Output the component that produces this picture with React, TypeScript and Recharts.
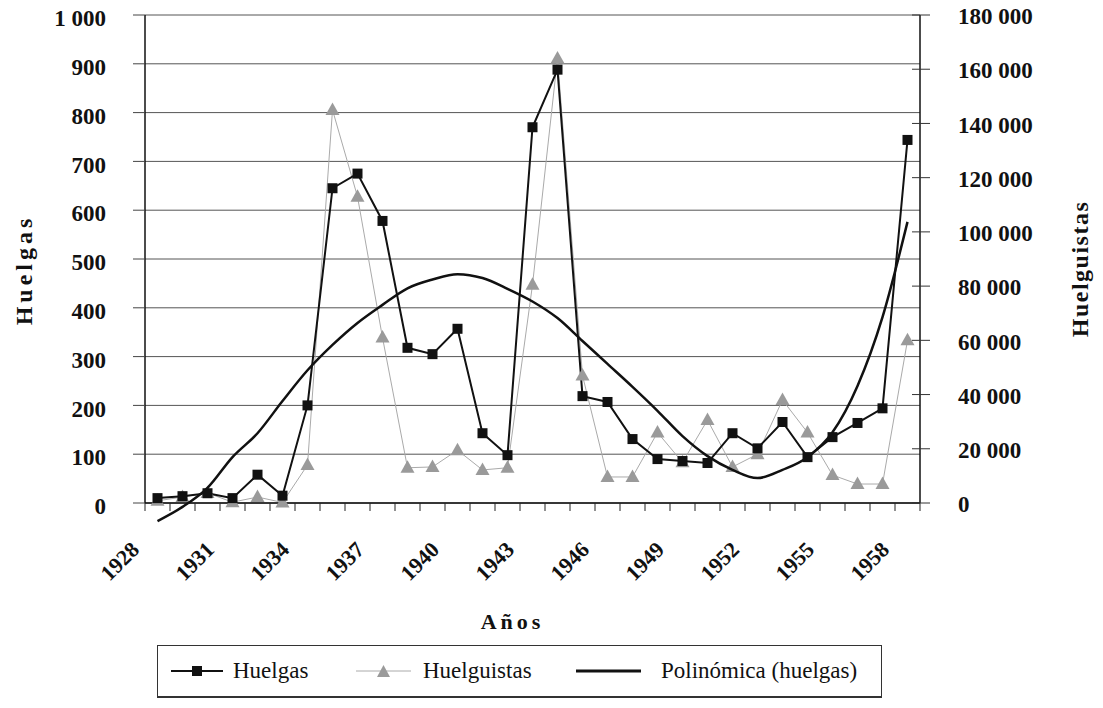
import { ComposedChart, Line, XAxis, YAxis, CartesianGrid, Legend } from 'recharts'

const YEARS = [
  '1928', '1929', '1930', '1931', '1932', '1933', '1934', '1935', '1936', '1937', '1938',
  '1939', '1940', '1941', '1942', '1943', '1944', '1945', '1946', '1947', '1948', '1949',
  '1950', '1951', '1952', '1953', '1954', '1955', '1956', '1957', '1958',
]
const HUELGAS = [
  10, 14, 20, 10, 58, 15, 200, 645, 675, 578, 318, 305, 357, 143, 98, 770,
  888, 219, 207, 131, 90, 86, 82, 143, 112, 166, 94, 135, 164, 194, 744,
]
const HUELGUISTAS = [
  800, 2200, 3700, 300, 2200, 200, 14000, 145000, 113000, 61000, 13000, 13300, 19500, 12200, 13000, 80500,
  164000, 47000, 9600, 9600, 26000, 15000, 30600, 13300, 18000, 38000, 26000, 10300, 7000, 7000, 60000,
]
// polynomial trend line of huelgas at each year
const TENDENCIA = [
  -37, -8, 31, 94, 143, 209, 272, 324, 369, 406, 440, 458, 469, 461, 439, 413,
  379, 332, 285, 238, 189, 137, 96, 68, 51, 68, 94, 145, 240, 381, 576,
]
const LEFT_TICKS = [0, 100, 200, 300, 400, 500, 600, 700, 800, 900, 1000]
const RIGHT_TICKS = [0, 20000, 40000, 60000, 80000, 100000, 120000, 140000, 160000, 180000]

const data = YEARS.map((year, i) => ({
  year,
  huelgas: HUELGAS[i],
  huelguistas: HUELGUISTAS[i],
  trend: TENDENCIA[i],
}))

const SERIF = '"Liberation Serif", "DejaVu Serif", serif'
const W = 1087
const H = 708
const MARGIN = { top: 15, right: 0, bottom: 65, left: 0 }
const LEFT_W = 137
const RIGHT_W = 175
const X_H = 140
const PLOT_W = W - LEFT_W - RIGHT_W
const PLOT_H = H - MARGIN.top - MARGIN.bottom - X_H
const BAND = PLOT_W / YEARS.length
const TREND_DOMAIN = [-40, 1000]
const OVER_H = 540
const OVER_PLOT_H = (PLOT_H * (TREND_DOMAIN[1] - TREND_DOMAIN[0])) / 1000

const fmt = (v: number) => String(v).replace(/\B(?=(\d{3})+(?!\d))/g, ' ')

const Square = (p: any) =>
  p.cx == null ? <g key={`sq-${p.index}`} /> : (
    <rect key={`sq-${p.index}`} x={p.cx - 5} y={p.cy - 5} width={10} height={10} fill="#111" />
  )

const Tri = (p: any) =>
  p.cx == null ? <g key={`tr-${p.index}`} /> : (
    <polygon
      key={`tr-${p.index}`}
      points={`${p.cx},${p.cy - 7.5} ${p.cx - 7},${p.cy + 5} ${p.cx + 7},${p.cy + 5}`}
      fill="#9a9a9a"
    />
  )

function YearTick(p: any) {
  const { x, y, payload, index } = p
  const left = x - BAND / 2
  const lx = x - 17
  const ly = y + 48
  return (
    <g>
      <line x1={left} y1={y} x2={left} y2={y + 8} stroke="#222" />
      {index === YEARS.length - 1 && <line x1={x + BAND / 2} y1={y} x2={x + BAND / 2} y2={y + 8} stroke="#222" />}
      {index % 3 === 0 && (
        <text
          x={lx}
          y={ly}
          transform={`rotate(-45 ${lx} ${ly})`}
          textAnchor="end"
          fontFamily={SERIF}
          fontSize={22}
          fontWeight="bold"
          fill="#111"
        >
          {payload.value}
        </text>
      )}
    </g>
  )
}

function RightTick(p: any) {
  const { x, y, payload } = p
  return (
    <g>
      <line x1={x - 8} y1={y} x2={x + 10} y2={y} stroke="#333" />
      <text x={x + 38} y={y} dy="0.4em" textAnchor="start" fontFamily={SERIF} fontSize={23} fontWeight="bold" fill="#111">
        {fmt(payload.value)}
      </text>
    </g>
  )
}

const LEGEND_ORDER = ['huelgas', 'huelguistas', 'trend']
const ITEM_W = [185, 220, 290]
const ITEM_GAP = [10, 12, 20]

function LegendIcon({ kind }: { kind: string }) {
  if (kind === 'huelgas') {
    return (
      <svg width={52} height={14}>
        <line x1={0} y1={7} x2={52} y2={7} stroke="#111" strokeWidth={2} />
        <rect x={21} y={2} width={10} height={10} fill="#111" />
      </svg>
    )
  }
  if (kind === 'huelguistas') {
    return (
      <svg width={55} height={14}>
        <line x1={0} y1={7} x2={55} y2={7} stroke="#aaa" strokeWidth={1} />
        <polygon points="27.5,1 21,13 34,13" fill="#9a9a9a" />
      </svg>
    )
  }
  return (
    <svg width={65} height={14}>
      <line x1={0} y1={7} x2={65} y2={7} stroke="#111" strokeWidth={3} />
    </svg>
  )
}

function LegendBox({ payload }: any) {
  const items = [...(payload || [])].sort(
    (a: any, b: any) => LEGEND_ORDER.indexOf(a.dataKey) - LEGEND_ORDER.indexOf(b.dataKey),
  )
  return (
    <div
      style={{
        width: 725,
        height: 53,
        boxSizing: 'border-box',
        border: '1px solid #333',
        borderBottom: '2px solid #333',
        display: 'flex',
        alignItems: 'center',
        paddingLeft: 13,
        fontFamily: SERIF,
        fontSize: 23,
        color: '#111',
        background: '#fff',
      }}
    >
      {items.map((entry: any, i: number) => (
        <div key={entry.dataKey} style={{ display: 'flex', alignItems: 'center', width: ITEM_W[i] }}>
          <LegendIcon kind={entry.dataKey} />
          <span style={{ marginLeft: ITEM_GAP[i], whiteSpace: 'nowrap' }}>{entry.value}</span>
        </div>
      ))}
    </div>
  )
}

const titleStyle = { fontFamily: SERIF, fontSize: 24, fontWeight: 'bold' as const, fill: '#111' }

export default function App() {
  return (
    <div style={{ position: 'relative', width: W, height: H, marginTop: -8, marginBottom: -8 }}>
      <ComposedChart width={W} height={H} data={data} margin={MARGIN}>
        <CartesianGrid yAxisId="left" vertical={false} stroke="#555" />
        <XAxis
          dataKey="year"
          scale="band"
          interval={0}
          height={X_H}
          tickSize={0}
          tickMargin={0}
          tickLine={false}
          axisLine={{ stroke: '#111', strokeWidth: 1.5 }}
          tick={YearTick}
          label={{
            content: (props: any) => {
              const vb = props.viewBox || { x: LEFT_W, y: MARGIN.top + PLOT_H, width: PLOT_W }
              return (
                <text x={vb.x + vb.width / 2 - 20} y={vb.y + 126} textAnchor="middle" letterSpacing={4} {...titleStyle} fontSize={22}>
                  Años
                </text>
              )
            },
          }}
        />
        <YAxis
          yAxisId="left"
          domain={[0, 1000]}
          ticks={LEFT_TICKS}
          interval={0}
          width={LEFT_W}
          tickSize={12}
          tickMargin={27}
          tickFormatter={fmt}
          tick={{ fontFamily: SERIF, fontSize: 23, fontWeight: 'bold', fill: '#111', dy: 3 }}
          tickLine={{ stroke: '#444' }}
          axisLine={{ stroke: '#111', strokeWidth: 1.5 }}
          label={{
            content: (props: any) => {
              const vb = props.viewBox || { x: 0, y: MARGIN.top, height: PLOT_H }
              const cx = vb.x + 16
              const cy = vb.y + vb.height / 2 + 11
              return (
                <text x={cx} y={cy} transform={`rotate(-90 ${cx} ${cy})`} textAnchor="middle" dominantBaseline="central" letterSpacing={4} {...titleStyle}>
                  Huelgas
                </text>
              )
            },
          }}
        />
        <YAxis
          yAxisId="right"
          orientation="right"
          domain={[0, 180000]}
          ticks={RIGHT_TICKS}
          interval={0}
          width={RIGHT_W}
          tickSize={0}
          tickMargin={0}
          tickLine={false}
          tick={RightTick}
          axisLine={{ stroke: '#111', strokeWidth: 1.5 }}
          label={{
            content: (props: any) => {
              const vb = props.viewBox || { x: LEFT_W + PLOT_W, y: MARGIN.top, height: PLOT_H }
              const cx = vb.x + 160
              const cy = vb.y + vb.height / 2 + 10
              return (
                <text x={cx} y={cy} transform={`rotate(-90 ${cx} ${cy})`} textAnchor="middle" dominantBaseline="central" letterSpacing={1.5} {...titleStyle}>
                  Huelguistas
                </text>
              )
            },
          }}
        />
        <YAxis yAxisId="trend" hide domain={TREND_DOMAIN} />
        <Line
          yAxisId="right"
          dataKey="huelguistas"
          name="Huelguistas"
          type="linear"
          stroke="#aaa"
          strokeWidth={1}
          dot={Tri}
          activeDot={false}
          isAnimationActive={false}
        />
        <Line
          yAxisId="left"
          dataKey="huelgas"
          name="Huelgas"
          type="linear"
          stroke="#111"
          strokeWidth={2}
          dot={Square}
          activeDot={false}
          isAnimationActive={false}
        />
        <Line
          yAxisId="trend"
          dataKey="trend"
          name="Polinómica (huelgas)"
          stroke="#111"
          strokeOpacity={0}
          dot={false}
          activeDot={false}
          isAnimationActive={false}
        />
        <Legend
          layout="horizontal"
          verticalAlign="middle"
          align="center"
          wrapperStyle={{ top: 645, left: 149, width: 725, height: 53 }}
          content={LegendBox}
        />
      </ComposedChart>
      {/* trend overlay: its plot reaches below zero so the curve is not clipped at the x axis */}
      <div style={{ position: 'absolute', top: 0, left: 0, pointerEvents: 'none' }}>
        <ComposedChart
          width={W}
          height={OVER_H}
          data={data}
          margin={{ top: MARGIN.top, right: RIGHT_W, bottom: OVER_H - MARGIN.top - OVER_PLOT_H, left: LEFT_W }}
        >
          <XAxis dataKey="year" scale="band" hide />
          <YAxis hide domain={TREND_DOMAIN} />
          <Line
            dataKey="trend"
            type="monotone"
            stroke="#111"
            strokeWidth={2.5}
            dot={false}
            activeDot={false}
            isAnimationActive={false}
          />
        </ComposedChart>
      </div>
    </div>
  )
}
